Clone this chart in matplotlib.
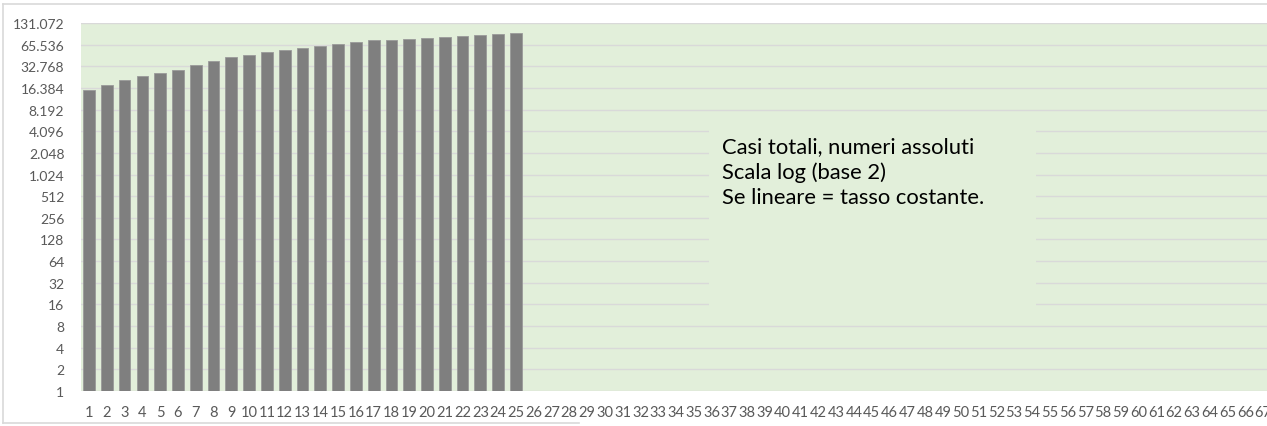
import matplotlib
matplotlib.use('Agg')
import matplotlib.pyplot as plt
from matplotlib.lines import Line2D
from matplotlib.patches import Rectangle

# Casi totali (scala log base 2)
days = list(range(1, 26))
cases = [15500, 18200, 21100, 23800, 26600, 29300, 34100, 38700, 43600, 47400,
         51800, 55100, 58700, 63300, 67400, 71200, 75200, 76700, 79100, 81700,
         84400, 87100, 90000, 92900, 95200]
x_labels = [str(i) for i in range(1, 68)]
y_ticks = [2 ** i for i in range(0, 18)]
note = "Casi totali, numeri assoluti\nScala log (base 2)\nSe lineare = tasso costante."

plt.rcParams['font.family'] = ['Lato', 'DejaVu Sans']

fig = plt.figure(figsize=(12.67, 4.27), dpi=100, facecolor='white')
ax = fig.add_axes([81 / 1267, 35 / 427, 1186 / 1267, 368 / 427])
ax.set_facecolor('#e2efda')

ax.bar(days, cases, width=0.66, color='#7f7f7f', edgecolor='#9a9a9a', linewidth=0.6, zorder=2)

ax.set_yscale('log', base=2)
ax.set_ylim(1, 131072)
ax.set_yticks(y_ticks)
ax.set_yticklabels([f"{v:,}".replace(',', '.') for v in y_ticks])
ax.minorticks_off()
ax.set_xlim(0.55, 67.22)
ax.set_xticks(range(1, len(x_labels) + 1))
ax.set_xticklabels(x_labels)

ax.grid(axis='y', color='#d9d9d9', linewidth=1.0)
ax.set_axisbelow(True)
for s in ax.spines.values():
    s.set_visible(False)
ax.tick_params(axis='y', length=0, pad=12, labelsize=10, labelcolor='#595959')
ax.tick_params(axis='x', length=0, pad=10, labelsize=10.5, labelcolor='#595959')

# text box covering the gridlines
ax.add_patch(Rectangle((0.5295, 0.2065), 0.2757, 0.5325, transform=ax.transAxes,
                       facecolor='#e2efda', edgecolor='none', zorder=1))
ax.text(0.5405, 0.693, note, transform=ax.transAxes, ha='left', va='top',
        fontsize=15.8, color='black', linespacing=1.33, zorder=3)

# chart border (cropped)
border = '#d9d9d9'
fig.add_artist(Line2D([3 / 1267, 1], [1 - 5 / 427, 1 - 5 / 427], color=border, lw=1.2))
fig.add_artist(Line2D([3 / 1267, 3 / 1267], [3 / 427, 1 - 5 / 427], color=border, lw=1.2))
fig.add_artist(Line2D([3 / 1267, 579 / 1267], [3 / 427, 3 / 427], color=border, lw=1.2))

fig.savefig('out.png', dpi=100, facecolor='white')
